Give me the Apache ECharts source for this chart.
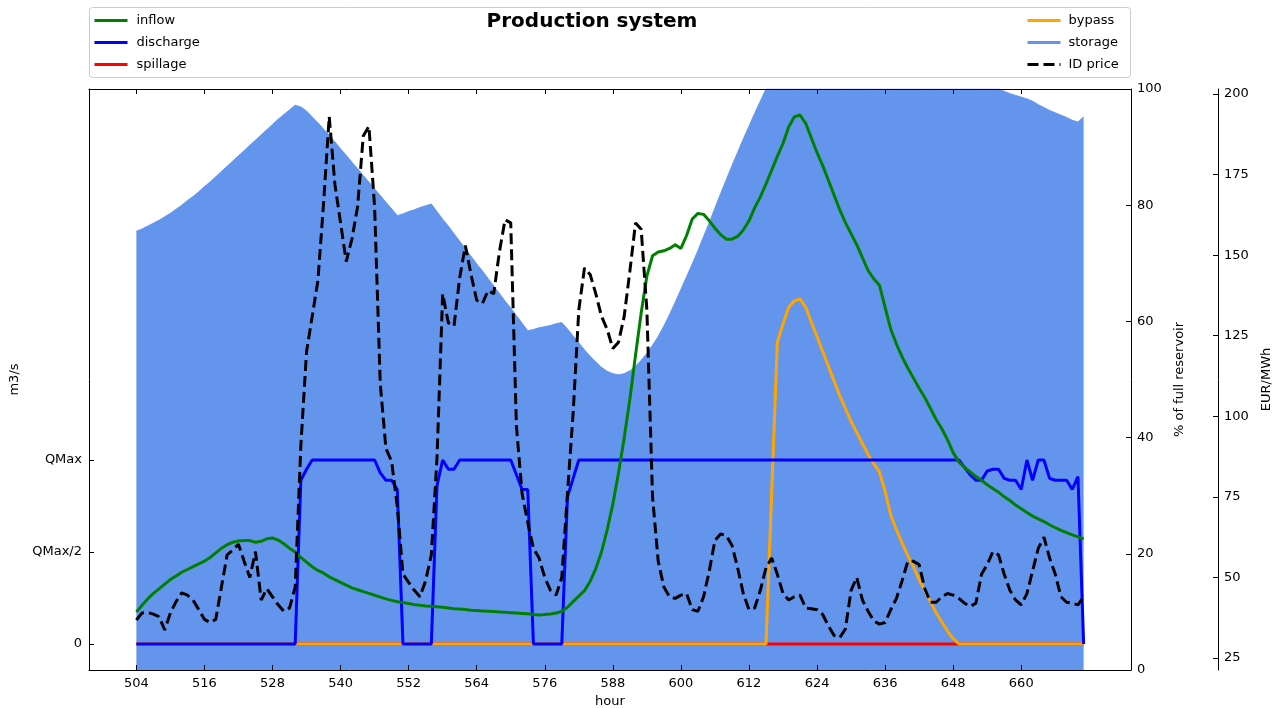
<!DOCTYPE html>
<html><head><meta charset="utf-8">
<script src="https://cdn.jsdelivr.net/npm/echarts@6/dist/echarts.min.js"></script>
<style>html,body{margin:0;padding:0;background:#fff}#c{width:1285px;height:708px}</style>
</head><body><div id="c"></div>
<script>
const hours = [504,505,506,507,508,509,510,511,512,513,514,515,516,517,518,519,520,521,522,523,
524,525,526,527,528,529,530,531,532,533,534,535,536,537,538,539,540,541,542,543,
544,545,546,547,548,549,550,551,552,553,554,555,556,557,558,559,560,561,562,563,
564,565,566,567,568,569,570,571,572,573,574,575,576,577,578,579,580,581,582,583,
584,585,586,587,588,589,590,591,592,593,594,595,596,597,598,599,600,601,602,603,
604,605,606,607,608,609,610,611,612,613,614,615,616,617,618,619,620,621,622,623,
624,625,626,627,628,629,630,631,632,633,634,635,636,637,638,639,640,641,642,643,
644,645,646,647,648,649,650,651,652,653,654,655,656,657,658,659,660,661,662,663,
664,665,666,667,668,669,670,671];

const xTicks = [504,516,528,540,552,564,576,588,600,612,624,636,648,660];
const flowTicks = [0,0.5,1];
const flowTickLabels = ['0','QMax/2','QMax'];
const priceTicks = [25,50,75,100,125,150,175,200];

// flows in units of QMax
const inflow = [0.174,0.21,0.245,0.275,0.30,0.325,0.35,0.37,0.39,0.405,
0.42,0.435,0.45,0.47,0.495,0.52,0.54,0.553,0.56,0.562,
0.562,0.553,0.558,0.572,0.576,0.565,0.545,0.52,0.50,0.47,
0.445,0.42,0.40,0.385,0.365,0.35,0.335,0.32,0.305,0.295,
0.285,0.275,0.265,0.255,0.245,0.237,0.23,0.225,0.22,0.214,
0.21,0.207,0.205,0.203,0.2,0.196,0.192,0.19,0.187,0.184,
0.182,0.18,0.178,0.176,0.174,0.172,0.17,0.168,0.166,0.164,
0.16,0.158,0.16,0.163,0.168,0.178,0.2,0.23,0.26,0.29,
0.34,0.41,0.50,0.62,0.76,0.93,1.12,1.33,1.57,1.80,
2.0,2.11,2.13,2.137,2.15,2.17,2.15,2.22,2.31,2.34,
2.335,2.30,2.26,2.225,2.20,2.20,2.215,2.25,2.30,2.37,
2.43,2.5,2.575,2.65,2.72,2.81,2.865,2.875,2.83,2.75,
2.67,2.6,2.52,2.44,2.36,2.29,2.23,2.17,2.1,2.03,
1.985,1.95,1.83,1.71,1.63,1.56,1.5,1.445,1.39,1.34,
1.28,1.22,1.17,1.11,1.04,0.99,0.96,0.935,0.91,0.89,
0.865,0.845,0.825,0.80,0.78,0.755,0.735,0.715,0.695,0.68,
0.665,0.648,0.632,0.618,0.605,0.593,0.582,0.571];

const discharge = [0,0,0,0,0,0,0,0,0,0,
0,0,0,0,0,0,0,0,0,0,
0,0,0,0,0,0,0,0,0,0.89,
0.95,1,1,1,1,1,1,1,1,1,
1,1,1,0.93,0.89,0.89,0.84,0,0,0,
0,0,0,0.86,1,0.95,0.95,1,1,1,
1,1,1,1,1,1,1,0.92,0.84,0.84,
0,0,0,0,0,0,0.80,0.90,1,1,
1,1,1,1,1,1,1,1,1,1,
1,1,1,1,1,1,1,1,1,1,
1,1,1,1,1,1,1,1,1,1,
1,1,1,1,1,1,1,1,1,1,
1,1,1,1,1,1,1,1,1,1,
1,1,1,1,1,1,1,1,1,1,
1,1,1,1,1,1.0,0.96,0.92,0.89,0.89,
0.94,0.95,0.95,0.90,0.89,0.89,0.84,1.0,0.89,1.0,
1.0,0.90,0.89,0.89,0.89,0.84,0.91,0];

const spillage = [0,0,0,0,0,0,0,0,0,0,0,0,0,0,0,0,0,0,0,0,0,0,0,0,0,0,0,0,0,0,
0,0,0,0,0,0,0,0,0,0,0,0,0,0,0,0,0,0,0,0,0,0,0,0,0,0,0,0,0,0,
0,0,0,0,0,0,0,0,0,0,0,0,0,0,0,0,0,0,0,0,0,0,0,0,0,0,0,0,0,0,
0,0,0,0,0,0,0,0,0,0,0,0,0,0,0,0,0,0,0,0,0,0,0,0,0,0,0,0,0,0,
0,0,0,0,0,0,0,0,0,0,0,0,0,0,0,0,0,0,0,0,0,0,0,0,0,0,0,0,0,0,
0,0,0,0,0,0,0,0,0,0,0,0,0,0,0,0,0,0];

const bypass = [0,0,0,0,0,0,0,0,0,0,0,0,0,0,0,0,0,0,0,0,0,0,0,0,0,0,0,0,0,0,
0,0,0,0,0,0,0,0,0,0,0,0,0,0,0,0,0,0,0,0,0,0,0,0,0,0,0,0,0,0,
0,0,0,0,0,0,0,0,0,0,0,0,0,0,0,0,0,0,0,0,0,0,0,0,0,0,0,0,0,0,
0,0,0,0,0,0,0,0,0,0,0,0,0,0,0,0,0,0,0,0,0,0,
0.82,1.64,1.74,1.83,1.865,1.875,1.83,1.75,1.67,1.59,1.51,1.43,1.35,1.28,1.21,1.15,1.09,1.03,0.98,0.935,
0.83,0.70,0.62,0.55,0.48,0.42,0.35,0.29,0.23,0.17,0.12,0.07,0.03,0,
0,0,0,0,0,0,0,0,0,0,0,0,0,0,0,0,0,0,0,0,0,0];

// % of full reservoir
const storage = [75.5,75.9,76.4,76.9,77.4,78.0,78.6,79.3,80.0,80.8,81.5,82.3,83.2,84.0,84.9,85.8,86.7,87.6,88.5,89.4,90.3,91.2,92.1,93.0,93.9,94.8,95.6,96.4,97.2,
96.9,96.2,95.2,94.2,93.1,92.0,90.9,89.7,88.6,87.4,86.3,85.1,84.0,82.8,81.7,80.5,79.4,78.2,
78.5,78.9,79.2,79.6,79.9,80.2,
78.9,77.6,76.4,75.1,73.8,72.5,71.2,69.9,68.7,67.4,66.1,64.8,63.5,62.3,61.0,59.7,58.4,
58.6,58.9,59.1,59.3,59.6,59.8,
58.7,57.5,56.3,55.1,54.0,53.0,52.1,51.4,51.0,50.8,51.0,51.5,
52.3,53.3,54.5,55.9,57.4,59.2,61.2,63.3,65.5,67.7,69.9,72.2,74.6,77.0,79.5,82.0,84.4,86.8,89.1,91.4,93.6,95.8,97.9,100,
100,100,100,100,100,100,100,100,100,100,100,100,100,100,100,100,100,100,100,100,100,100,100,100,100,100,100,100,100,100,100,100,100,100,100,100,100,100,100,100,100,
99.6,99.2,98.9,98.6,98.3,97.9,97.3,96.8,96.3,95.9,95.5,95.1,94.6,94.3,95.2];

// EUR/MWh
const price = [36.8,39.0,39.1,38.6,37.8,33.7,39.0,42.5,45.2,44.5,
43.0,40.0,37.0,36.0,37.0,47.0,57.0,58.5,60.3,55.0,
50.0,58.0,43.0,46.5,44.0,41.5,39.5,40.5,47.0,91.0,
120,131,142,166,193,172,160,148,155,165,
187,190,165,110,90,86,72,51,48.5,46,
44,49,57,87,138,129,128,143,153,144,
136,135,139,138,151,161,160,97,76,67,
59,56,50,46,44.5,50,76,101,133,146,
144,138,131,127,121,123,131,145,160,158,
133,75,55,47,44,43.5,44.5,45,40,39.5,
44,52,61.5,63.5,63,60,53,45,40,40.5,
46,53,56,51,45,43,44,44.5,40.5,40.3,
40,38.5,35,32,31.3,34,46,50,43,39.5,
36.5,35.5,36,40,43.5,49,55,55,54,46.5,
42.3,42.3,44,45,44.5,43.5,42,41,42,51,
54,58,57,51,46,43,41.5,45,52,59,
62.5,56,51,44,42.3,42,41.5,44];

const FONT = 'DejaVu Sans';
const pairs = arr => hours.map((h, i) => [h, arr[i]]);
const axisLineStyle = {color: '#000', width: 1};
const tickStyle = {color: '#000', width: 1};
const labelStyle = {fontFamily: FONT, fontSize: 13, color: '#000'};

const chart = echarts.init(document.getElementById('c'), null, {renderer: 'canvas'});
chart.setOption({
  animation: false,
  backgroundColor: '#fff',
  grid: {left: 89, right: 154, top: 89, bottom: 38, containLabel: false, outerBoundsMode: 'none'},
  graphic: [
    {type: 'rect', z: 0, shape: {x: 89.5, y: 7.5, width: 1041, height: 70, r: 3},
     style: {fill: '#fff', stroke: '#cccccc', lineWidth: 1}},
    {type: 'text', z: 5, x: 592, y: 22,
     style: {text: 'Production system', fontFamily: FONT, fontSize: 20, fontWeight: 'bold',
             fill: '#000', align: 'center', verticalAlign: 'middle'}}
  ],
  legend: [
    {orient: 'vertical', left: 93, top: 14, padding: 0, itemWidth: 33, itemHeight: 14, itemGap: 9,
     itemStyle: {opacity: 0}, lineStyle: {width: 3},
     textStyle: Object.assign({padding: [0, 0, 0, 4]}, labelStyle),
     data: ['inflow', 'discharge', 'spillage']},
    {orient: 'vertical', left: 1026, top: 14, padding: 0, itemWidth: 33, itemHeight: 14, itemGap: 9,
     itemStyle: {opacity: 0}, lineStyle: {width: 3},
     textStyle: Object.assign({padding: [0, 0, 0, 3]}, labelStyle),
     data: ['bypass', {name: 'storage', lineStyle: {width: 3, color: '#6495ED'}}, 'ID price']}
  ],
  xAxis: [
    {type: 'value', min: 495.65, max: 679.35, position: 'bottom', z: 10,
     name: 'hour', nameLocation: 'middle', nameGap: 23, nameTextStyle: labelStyle,
     axisLine: {show: true, onZero: false, lineStyle: axisLineStyle},
     axisTick: {show: true, inside: true, length: 5, customValues: xTicks, lineStyle: tickStyle},
     axisLabel: Object.assign({show: true, margin: 7, customValues: xTicks}, labelStyle),
     splitLine: {show: false}},
    {type: 'value', min: 495.65, max: 679.35, position: 'top', z: 10,
     axisLine: {show: true, onZero: false, lineStyle: axisLineStyle},
     axisTick: {show: true, inside: true, length: 5, customValues: xTicks, lineStyle: tickStyle},
     axisLabel: {show: false}, splitLine: {show: false}}
  ],
  yAxis: [
    {type: 'value', min: -0.1413, max: 3.0163, position: 'left', z: 10,
     name: 'm3/s', nameLocation: 'middle', nameGap: 65, nameRotate: 90, nameTextStyle: labelStyle,
     axisLine: {show: true, onZero: false, lineStyle: axisLineStyle},
     axisTick: {show: true, inside: true, length: 5, customValues: flowTicks, lineStyle: tickStyle},
     axisLabel: Object.assign({show: true, margin: 7, customValues: flowTicks,
       formatter: v => flowTickLabels[flowTicks.indexOf(Math.round(v * 100) / 100)] || ''}, labelStyle),
     splitLine: {show: false}},
    {type: 'value', min: 0, max: 100, interval: 20, position: 'right', z: 10,
     name: '% of full reservoir', nameLocation: 'middle', nameGap: 40, nameRotate: 90, nameTextStyle: labelStyle,
     axisLine: {show: true, onZero: false, lineStyle: axisLineStyle},
     axisTick: {show: true, inside: true, length: 5, lineStyle: tickStyle},
     axisLabel: Object.assign({show: true, margin: 6}, labelStyle),
     splitLine: {show: false}},
    {type: 'value', min: 21.28, max: 201.55, position: 'right', offset: 87, z: 10,
     name: 'EUR/MWh', nameLocation: 'middle', nameGap: 40, nameRotate: 90, nameTextStyle: labelStyle,
     axisLine: {show: true, onZero: false, lineStyle: axisLineStyle},
     axisTick: {show: true, inside: true, length: 5, customValues: priceTicks, lineStyle: tickStyle},
     axisLabel: Object.assign({show: true, margin: 6, customValues: priceTicks}, labelStyle),
     splitLine: {show: false}}
  ],
  series: [
    {name: 'storage', type: 'line', xAxisIndex: 0, yAxisIndex: 1, data: pairs(storage), z: 1,
     symbol: 'none', showSymbol: false, silent: true,
     lineStyle: {color: '#6495ED', width: 1}, itemStyle: {color: '#6495ED'},
     areaStyle: {color: '#6495ED', opacity: 1}},
    {name: 'spillage', type: 'line', xAxisIndex: 0, yAxisIndex: 0, data: pairs(spillage), z: 2,
     symbol: 'none', lineStyle: {color: '#FF0000', width: 3}, itemStyle: {color: '#FF0000'}},
    {name: 'bypass', type: 'line', xAxisIndex: 0, yAxisIndex: 0, data: pairs(bypass), z: 3,
     symbol: 'none', lineStyle: {color: '#FFA500', width: 3}, itemStyle: {color: '#FFA500'}},
    {name: 'discharge', type: 'line', xAxisIndex: 0, yAxisIndex: 0, data: pairs(discharge), z: 4,
     symbol: 'none', lineStyle: {color: '#0000FF', width: 3}, itemStyle: {color: '#0000FF'}},
    {name: 'inflow', type: 'line', xAxisIndex: 0, yAxisIndex: 0, data: pairs(inflow), z: 5,
     symbol: 'none', lineStyle: {color: '#008000', width: 3}, itemStyle: {color: '#008000'}},
    {name: 'ID price', type: 'line', xAxisIndex: 0, yAxisIndex: 2, data: pairs(price), z: 6,
     symbol: 'none', lineStyle: {color: '#000000', width: 3, type: [11, 5]}, itemStyle: {color: '#000000'}}
  ]
});
</script></body></html>
